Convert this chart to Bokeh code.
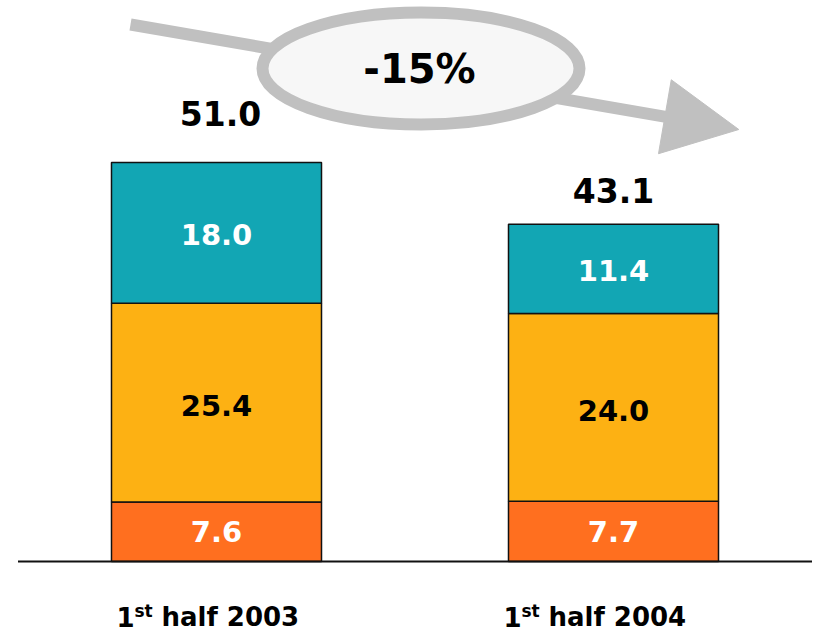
from bokeh.plotting import figure
from bokeh.models import Range1d
from bokeh.embed import file_html
from bokeh.resources import INLINE
from bokeh.core.properties import value
import math

# ---------------- data ----------------
periods = ["2003", "2004"]
bottom_vals = [7.6, 7.7]
middle_vals = [25.4, 24.0]
top_vals = [18.0, 11.4]
totals = [51.0, 43.1]
change_label = "-15%"

# ---------------- layout constants ----------------
W, H = 815, 639
BASE_PX = 561.0        # pixel row of the zero line
PX_PER_UNIT = 7.824    # vertical pixels per value unit
CENTER0_PX = 216.0     # pixel column of the first bar centre
PX_PER_CAT = 397.0     # pixels between bar centres
BAR_W = 0.529

FONT = value("DejaVu Sans")
C_TOP = "#12A6B4"
C_MID = "#FDB113"
C_BOT = "#FF6F1F"
GREY = "#C0C0C0"


def sx(px):
    return (px - CENTER0_PX) / PX_PER_CAT


def sy(py):
    return (BASE_PX - py) / PX_PER_UNIT


def dx(px):
    return px / PX_PER_CAT


def dy(px):
    return px / PX_PER_UNIT


p = figure(width=W, height=H, output_backend="svg", toolbar_location=None,
           x_range=Range1d(sx(0), sx(W)), y_range=Range1d(sy(H), sy(0)),
           min_border=0, outline_line_color=None)
p.xaxis.visible = False
p.yaxis.visible = False
p.xgrid.visible = False
p.ygrid.visible = False
p.background_fill_color = "white"
p.border_fill_color = "white"

xs = list(range(len(periods)))
cum1 = [b + m for b, m in zip(bottom_vals, middle_vals)]
cum2 = [c + t for c, t in zip(cum1, top_vals)]

# ---------------- bars ----------------
kw = dict(width=BAR_W, line_color="#111111", line_width=1.5)
p.vbar(x=xs, bottom=0, top=bottom_vals, fill_color=C_BOT, **kw)
p.vbar(x=xs, bottom=bottom_vals, top=cum1, fill_color=C_MID, **kw)
p.vbar(x=xs, bottom=cum1, top=cum2, fill_color=C_TOP, **kw)

# baseline
p.segment(x0=[-0.5], y0=[0], x1=[1.5], y1=[0], line_color="#111111", line_width=2)

# ---------------- segment labels ----------------
seg_font = "29px"
p.text(x=xs, y=[b / 2 for b in bottom_vals], text=[f"{v:.1f}" for v in bottom_vals],
       text_color="white", text_font=FONT, text_font_style="bold", text_font_size=seg_font,
       text_align="center", text_baseline="middle")
p.text(x=xs, y=[b + m / 2 - dy(3) for b, m in zip(bottom_vals, middle_vals)],
       text=[f"{v:.1f}" for v in middle_vals],
       text_color="black", text_font=FONT, text_font_style="bold", text_font_size=seg_font,
       text_align="center", text_baseline="middle")
p.text(x=xs, y=[c + t / 2 - dy(2) for c, t in zip(cum1, top_vals)],
       text=[f"{v:.1f}" for v in top_vals],
       text_color="white", text_font=FONT, text_font_style="bold", text_font_size=seg_font,
       text_align="center", text_baseline="middle")

# ---------------- totals ----------------
TOTAL_LIFT_PX = [49, 34]
TOTAL_SHIFT_PX = [4, 0]
p.text(x=[x + dx(s) for x, s in zip(xs, TOTAL_SHIFT_PX)],
       y=[t + dy(l) for t, l in zip(totals, TOTAL_LIFT_PX)],
       text=[f"{v:.1f}" for v in totals],
       text_color="black", text_font=FONT, text_font_style="bold", text_font_size="33px",
       text_align="center", text_baseline="middle")

# ---------------- category labels "1st half YYYY" ----------------
LABEL_START_PX = [-100, -110]   # start of label relative to bar centre
LABEL_MID_PX = 616
starts = [x + dx(s) for x, s in zip(xs, LABEL_START_PX)]
p.text(x=starts, y=[sy(LABEL_MID_PX)] * 2, text=["1"] * 2,
       text_color="black", text_font=FONT, text_font_style="bold", text_font_size="26px",
       text_align="left", text_baseline="middle")
p.text(x=[s + dx(18) for s in starts], y=[sy(LABEL_MID_PX - 6)] * 2, text=["st"] * 2,
       text_color="black", text_font=FONT, text_font_style="bold", text_font_size="17px",
       text_align="left", text_baseline="middle")
p.text(x=[s + dx(45) for s in starts], y=[sy(LABEL_MID_PX)] * 2,
       text=[f"half {y}" for y in periods],
       text_color="black", text_font=FONT, text_font_style="bold", text_font_size="26px",
       text_align="left", text_baseline="middle")

# ---------------- change arrow with ellipse ----------------
a_start = (130.0, 24.0)
a_tip = (738.3, 129.0)
head_len, head_w = 75.0, 75.0
ddx, ddy = a_tip[0] - a_start[0], a_tip[1] - a_start[1]
L = math.hypot(ddx, ddy)
ux, uy = ddx / L, ddy / L
nx, ny = -uy, ux
base = (a_tip[0] - head_len * ux, a_tip[1] - head_len * uy)
v1 = (base[0] + head_w / 2 * nx, base[1] + head_w / 2 * ny)
v2 = (base[0] - head_w / 2 * nx, base[1] - head_w / 2 * ny)

p.line(x=[sx(a_start[0]), sx(base[0] + 1)], y=[sy(a_start[1]), sy(base[1] + uy)],
       line_color=GREY, line_width=12, line_cap="butt")
p.patch(x=[sx(v1[0]), sx(a_tip[0]), sx(v2[0])], y=[sy(v1[1]), sy(a_tip[1]), sy(v2[1])],
        fill_color=GREY, line_color=GREY, line_width=1)

ell_c = (420.5, 68.0)
p.ellipse(x=[sx(ell_c[0])], y=[sy(ell_c[1])], width=317, height=112,
          width_units="screen", height_units="screen",
          fill_color="#F7F7F7", line_color=GREY, line_width=12)
p.text(x=[sx(419)], y=[sy(68)], text=[change_label],
       text_color="black", text_font=FONT, text_font_style="bold", text_font_size="40px",
       text_align="center", text_baseline="middle")

open("out.html", "w").write(file_html(p, INLINE))
